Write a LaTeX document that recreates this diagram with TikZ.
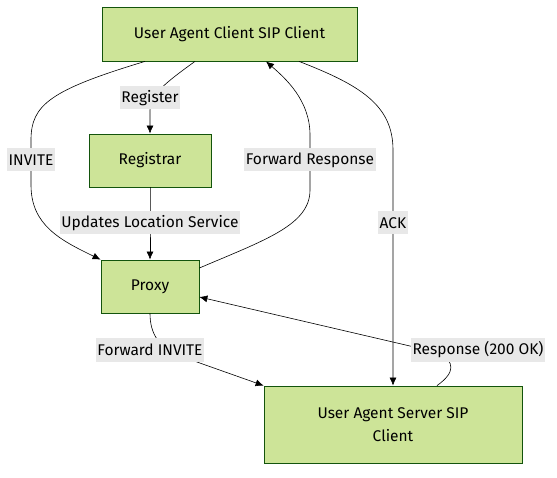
\documentclass[tikz,border=0pt]{standalone}
\usepackage{fontspec}
\setmainfont{Fira Sans}
\usetikzlibrary{arrows.meta}
\definecolor{boxfill}{HTML}{CDE498}
\definecolor{boxline}{HTML}{13540C}
\definecolor{lblfill}{HTML}{E8E8E8}
\begin{document}
\begin{tikzpicture}[
    x=1pt, y=-1pt,
    every node/.style={font=\fontsize{15.5}{23}\selectfont},
    box/.style={draw=boxline, fill=boxfill, line width=0.8pt, align=center, inner sep=0pt},
    lbl/.style={fill=lblfill, inner sep=1.5pt, minimum height=23pt},
    arr/.style={draw, line width=0.6pt, -{Latex[length=8pt,width=7pt]}}
]
\useasboundingbox (0,0) rectangle (557,478);
\node[box, minimum width=255pt, minimum height=54pt] (uac) at (229.5,34) {User Agent Client SIP Client};
\node[box, minimum width=122pt, minimum height=53pt] (reg) at (150,160.5) {Registrar};
\node[box, minimum width=98pt, minimum height=53pt] (prx) at (150,286.5) {Proxy};
\node[box, minimum width=258pt, minimum height=77pt] (uas) at (393,424.5) {User Agent Server SIP\\Client};

\draw[arr] ([xshift=-34.5pt]uac.south) .. controls (165,83) and (150,95) .. (150,110)
    node[lbl, anchor=center] (lreg) at (150,98) {Register} -- (reg.north);
\draw[arr] ([xshift=-84.5pt]uac.south) .. controls (50,90) and (31,105) .. (31,140)
    -- (31,160) node[lbl] (linv) {INVITE} -- (31,185)
    .. controls (31,225) and (60,240) .. (prx.north west);
\draw[arr] (reg.south) -- (150,223) node[lbl] (lloc) {Updates Location Service} -- (prx.north);
\draw[arr] ([yshift=18.5pt]prx.east) .. controls (265,240) and (310,225) .. (310,190)
    -- (310,160) node[lbl] (lfwr) {Forward Response} -- (310,135)
    .. controls (310,100) and (285,78) .. ([xshift=36.5pt]uac.south);
\draw[arr] ([xshift=69.5pt]uac.south) .. controls (360,85) and (393,105) .. (393,150)
    -- (393,223) node[lbl] (lack) {ACK} -- (uas.north);
\draw[arr] (prx.south) .. controls (150,335) and (160,348) .. (180,356)
    node[lbl] (lfwi) at (150,350) {Forward INVITE} -- (uas.north west);
\draw[arr] ([xshift=44pt]uas.north) .. controls (456,372) and (454,362) .. (440,353)
    node[lbl] (lres) at (478,350) {Response (200 OK)} -- ([yshift=-10.5pt]prx.east);
\end{tikzpicture}
\end{document}
